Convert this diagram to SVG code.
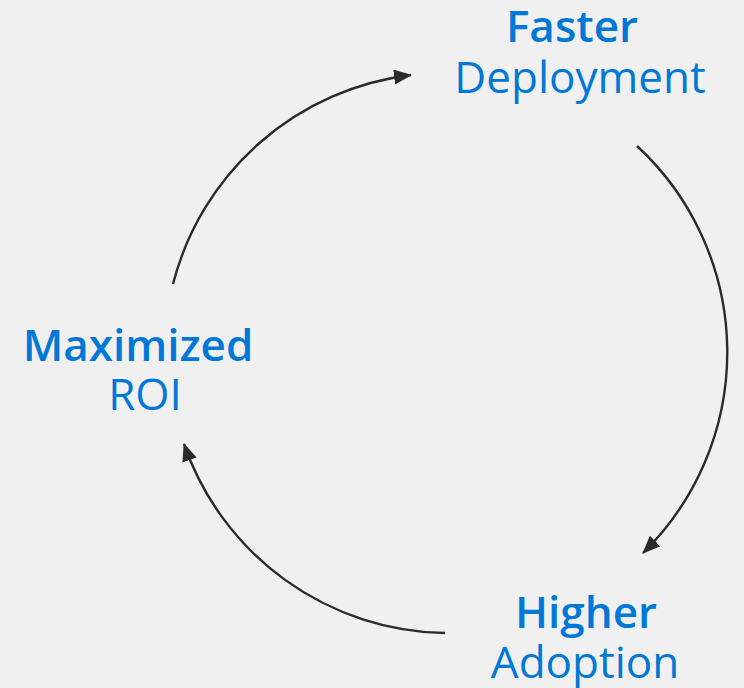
<svg xmlns="http://www.w3.org/2000/svg" width="744" height="688" viewBox="0 0 744 688">
<defs>
<style>
.t{font-family:"Open Sans","Noto Sans","DejaVu Sans",sans-serif;font-size:44px;fill:#0078d7;text-anchor:middle}
.b{font-weight:600}
.c{fill:none;stroke:#2b2b2b;stroke-width:2.4}
</style>
<marker id="ah" markerUnits="userSpaceOnUse" markerWidth="18" markerHeight="16" refX="17" refY="7.5" orient="auto">
<path d="M0,0 L18,7.5 L0,15 z" fill="#2b2b2b"/>
</marker>
</defs>
<rect width="744" height="688" fill="#f0f0f0"/>
<g id="connectors">
<path class="c" marker-end="url(#ah)" d="M173,284 A281,281 0 0 1 411,75"/>
<path class="c" marker-end="url(#ah)" d="M637,146 A281,281 0 0 1 643,553"/>
<path class="c" marker-end="url(#ah)" d="M445,633 A281,281 0 0 1 184,444"/>
</g>
<g id="faster-deployment">
<text class="t b" x="572" y="42">Faster</text>
<text class="t" x="580" y="93">Deployment</text>
</g>
<g id="higher-adoption">
<text class="t b" x="586" y="628">Higher</text>
<text class="t" x="585" y="678">Adoption</text>
</g>
<g id="maximized-roi">
<text class="t b" x="138" y="361">Maximized</text>
<text class="t" x="145" y="410">ROI</text>
</g>
</svg>
